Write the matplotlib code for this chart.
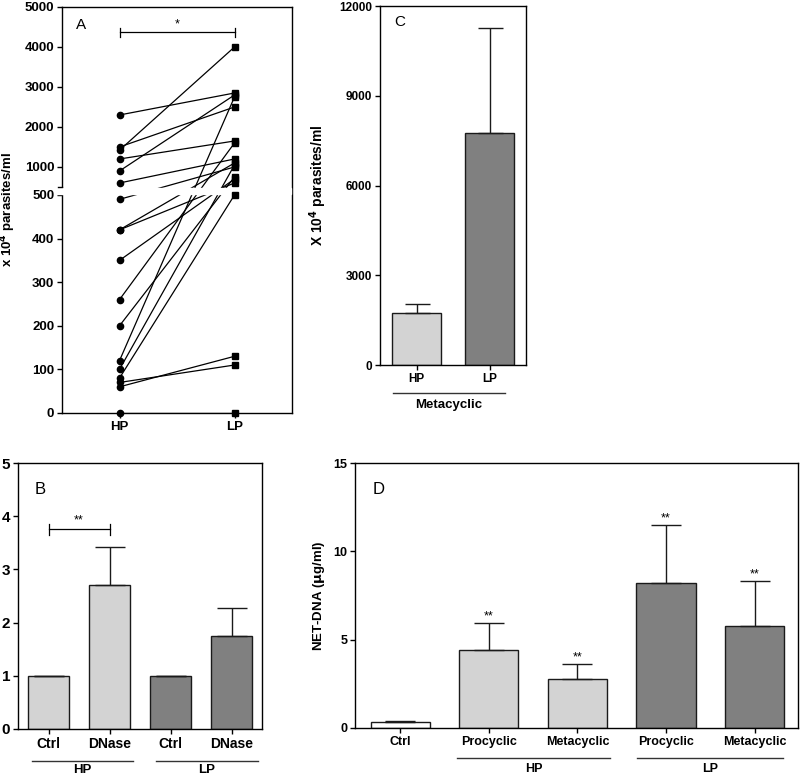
import numpy as np
import matplotlib
matplotlib.use("Agg")
import matplotlib.pyplot as plt
from matplotlib.patches import Rectangle
from matplotlib.ticker import FixedLocator, NullLocator

plt.rcParams['font.family'] = ['Liberation Sans', 'DejaVu Sans']
plt.rcParams['font.weight'] = 'bold'
plt.rcParams['axes.linewidth'] = 1.0
plt.rcParams['xtick.direction'] = 'out'
plt.rcParams['ytick.direction'] = 'out'

# ---- data ----
# panel A: paired values, HP -> LP (x 10^4 parasites/ml)
a_hp = [2300, 1500, 1420, 1200, 900, 600, 490, 420, 420, 350, 260, 200, 120, 100, 80, 70, 60, 0]
a_lp = [2850, 2500, 4000, 1650, 2800, 1200, 1000, 1100, 600, 700, 1600, 750, 2750, 1050, 500, 110, 130, 0]
a_groups = ['HP', 'LP']
a_yticks = [0, 100, 200, 300, 400, 500, 1000, 2000, 3000, 4000, 5000]

# panel C
c_labels = ['HP', 'LP']
c_means = [1750, 7750]
c_err = [280, 3510]

# panel B
b_labels = ['Ctrl', 'DNase', 'Ctrl', 'DNase']
b_means = [1.0, 2.7, 1.0, 1.74]
b_err = [0.0, 0.72, 0.0, 0.53]

# panel D
d_labels = ['Ctrl', 'Procyclic', 'Metacyclic', 'Procyclic', 'Metacyclic']
d_means = [0.35, 4.4, 2.75, 8.2, 5.8]
d_err = [0.05, 1.55, 0.85, 3.3, 2.5]

LIGHT = '#d3d3d3'
DARK = '#808080'
EDGE = '#1a1a1a'

fig = plt.figure(figsize=(8, 7.77), dpi=100)


def style(ax, size=8.5):
    ax.tick_params(axis='both', length=3.5, width=1, labelsize=size, pad=2)
    for lab in ax.get_xticklabels() + ax.get_yticklabels():
        lab.set_fontweight('bold')


# ---- panel A: broken axis as a piecewise scale ----
LOW_H, GAP, HIGH_H = 218.0, 8.0, 180.0


def fwd(v):
    v = np.asarray(v, dtype=float)
    return np.where(v <= 500, v * LOW_H / 500,
                    LOW_H + GAP + (v - 500) * HIGH_H / 4500)


def inv(t):
    t = np.asarray(t, dtype=float)
    return np.where(t <= LOW_H, t * 500 / LOW_H,
                    np.where(t < LOW_H + GAP, 500,
                             500 + (t - LOW_H - GAP) * 4500 / HIGH_H))


axA = fig.add_axes([0.0775, 0.4685, 0.2875, 0.5225])
axA.set_yscale('function', functions=(fwd, inv))
axA.set_ylim(0, 5000)
axA.set_xlim(-0.5, 1.5)
for h, l in zip(a_hp, a_lp):
    axA.plot([0, 1], [h, l], color='black', lw=0.9, zorder=2)
axA.plot(np.zeros(len(a_hp)), a_hp, 'o', color='black', ms=4.5, zorder=5, clip_on=False)
axA.plot(np.ones(len(a_lp)), a_lp, 's', color='black', ms=4.2, zorder=5, clip_on=False)
axA.yaxis.set_major_locator(FixedLocator(a_yticks))
axA.yaxis.set_minor_locator(NullLocator())
axA.set_yticklabels([str(t) for t in a_yticks])
axA.set_xticks([0, 1])
axA.set_xticklabels(a_groups)
total = LOW_H + GAP + HIGH_H
lo, hi = LOW_H / total, (LOW_H + GAP) / total
axA.add_patch(Rectangle((-0.02, lo + 0.002), 1.015, hi - lo - 0.004, transform=axA.transAxes,
                        color='white', zorder=3, clip_on=False))
axA.plot([-0.018, 0.0], [hi, hi], transform=axA.transAxes, color='black', lw=1,
         clip_on=False, zorder=4)
axA.set_ylabel(r'x 10$^{\mathbf{4}}$ parasites/ml', fontsize=9.5, fontweight='bold')
axA.yaxis.set_label_coords(-0.19, 0.5)
axA.text(0.06, 0.955, 'A', transform=axA.transAxes, fontsize=11, fontweight='normal',
         va='center')
# significance bracket
axA.plot([0, 1], [4370, 4370], color='black', lw=0.9)
axA.plot([0, 0], [4250, 4480], color='black', lw=0.9)
axA.plot([1, 1], [4250, 4480], color='black', lw=0.9)
axA.text(0.5, 4420, '*', ha='center', va='bottom', fontsize=9, fontweight='normal')
style(axA, 9.5)


def bars(ax, means, errs, colors, width, cap):
    x = np.arange(len(means))
    ax.bar(x, means, width=width, color=colors, edgecolor=EDGE, linewidth=1.0, zorder=2)
    ax.errorbar(x, means, yerr=[np.zeros(len(errs)), errs], fmt='none', ecolor=EDGE,
                elinewidth=1.0, capsize=cap, capthick=1.0, zorder=3)
    return x


def group(ax, x0, x1, y_line, y_text, label, size):
    tr = ax.get_xaxis_transform()
    ax.plot([x0, x1], [y_line, y_line], transform=tr, color='#333333', lw=1.0, clip_on=False)
    ax.text((x0 + x1) / 2, y_text, label, transform=tr, ha='center', va='center',
            fontsize=size, fontweight='bold')


# ---- panel C ----
axC = fig.add_axes([0.475, 0.5302, 0.1825, 0.462])
bars(axC, c_means, c_err, [LIGHT, DARK], 0.66, 9)
axC.set_xlim(-0.5, 1.5)
axC.set_ylim(0, 12000)
axC.set_yticks([0, 3000, 6000, 9000, 12000])
axC.set_xticks([0, 1])
axC.set_xticklabels(c_labels)
axC.set_ylabel(r'X 10$^{\mathbf{4}}$ parasites/ml', fontsize=10, fontweight='bold')
axC.yaxis.set_label_coords(-0.35, 0.5)
axC.text(0.1, 0.955, 'C', transform=axC.transAxes, fontsize=11, fontweight='normal',
         va='center')
group(axC, -0.32, 1.21, -0.078, -0.11, 'Metacyclic', 9.5)
style(axC, 8.5)

# ---- panel B ----
axB = fig.add_axes([0.0225, 0.0618, 0.305, 0.3423])
bars(axB, b_means, b_err, [LIGHT, LIGHT, DARK, DARK], 0.675, 10.5)
axB.set_xlim(-0.5, 3.5)
axB.set_ylim(0, 5)
axB.set_yticks(range(6))
axB.set_xticks(range(4))
axB.set_xticklabels(b_labels)
axB.text(0.07, 0.9, 'B', transform=axB.transAxes, fontsize=12, fontweight='normal',
         va='center')
axB.plot([0, 1], [3.76, 3.76], color='black', lw=0.9)
axB.plot([0, 0], [3.64, 3.86], color='black', lw=0.9)
axB.plot([1, 1], [3.64, 3.86], color='black', lw=0.9)
axB.text(0.5, 3.8, '**', ha='center', va='bottom', fontsize=9, fontweight='normal')
group(axB, -0.27, 1.39, -0.12, -0.155, 'HP', 9.5)
group(axB, 1.76, 3.44, -0.12, -0.155, 'LP', 9.5)
style(axB, 11)
for lab in axB.get_xticklabels():
    lab.set_fontsize(10)

# ---- panel D ----
axD = fig.add_axes([0.44375, 0.0631, 0.55375, 0.341])
xd = bars(axD, d_means, d_err, ['white', LIGHT, LIGHT, DARK, DARK], 0.67, 10.8)
axD.set_xlim(-0.51, 4.49)
axD.set_ylim(0, 15)
axD.set_yticks([0, 5, 10, 15])
axD.set_xticks(xd)
axD.set_xticklabels(d_labels)
axD.set_ylabel(r'NET-DNA ($\mathbf{\mu}$g/ml)', fontsize=9.5, fontweight='bold')
axD.yaxis.set_label_coords(-0.063, 0.5)
axD.text(0.04, 0.9, 'D', transform=axD.transAxes, fontsize=12, fontweight='normal',
         va='center')
for x, m, e in list(zip(xd, d_means, d_err))[1:]:
    axD.text(x, m + e + 0.05, '**', ha='center', va='bottom', fontsize=9, fontweight='normal')
group(axD, 0.64, 2.37, -0.113, -0.155, 'HP', 9)
group(axD, 2.67, 4.32, -0.113, -0.155, 'LP', 9)
style(axD, 9)

fig.savefig('out.png', dpi=100)
